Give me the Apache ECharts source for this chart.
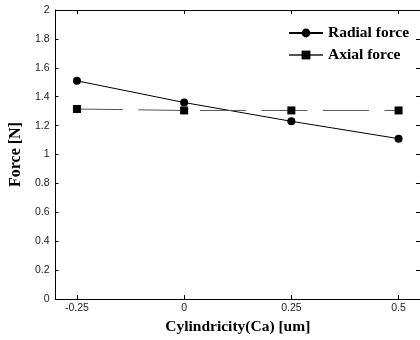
<!DOCTYPE html>
<html>
<head>
<meta charset="utf-8">
<script src="https://cdn.jsdelivr.net/npm/echarts@6/dist/echarts.min.js"></script>
<style>
html,body{margin:0;padding:0;background:#fff;}
#c{width:420px;height:340px;}
</style>
</head>
<body>
<div id="c"></div>
<script>
var xValues = [-0.25, 0, 0.25, 0.5];
var radialForce = [1.51, 1.36, 1.23, 1.11];
var axialForce = [1.315, 1.305, 1.305, 1.305];
var xTickLabels = ['-0.25', '0', '0.25', '0.5'];
var seriesNames = ['Radial force', 'Axial force'];

function pairs(ys){ return xValues.map(function(x,i){ return [x, ys[i]]; }); }

var serif = 'Liberation Serif';
var sans = 'Liberation Sans';
var chart = echarts.init(document.getElementById('c'), null, {renderer:'canvas'});
function axisLine(){ return {show:true, onZero:false, lineStyle:{color:'#000', width:1}}; }
chart.setOption({
  animation:false,
  backgroundColor:'#fff',
  grid:{left:51, top:10, width:370, height:290, containLabel:false},
  legend:{
    orient:'vertical', left:283, top:20, itemWidth:34, itemHeight:11, itemGap:6,
    textStyle:{fontFamily:serif, fontWeight:'bold', fontSize:15.5, color:'#000', lineHeight:16},
    data:seriesNames
  },
  xAxis:[{
    type:'value', min:-0.3, max:0.55, position:'bottom',
    name:'Cylindricity(Ca) [um]', nameLocation:'middle', nameGap:18,
    nameTextStyle:{fontFamily:serif, fontWeight:'bold', fontSize:15.5, color:'#000'},
    axisLine:axisLine(),
    axisTick:{show:true, inside:true, length:4, customValues:xValues, lineStyle:{color:'#000'}},
    axisLabel:{show:true, customValues:xValues, fontFamily:sans, fontSize:10.5, color:'#222', margin:4,
      formatter:function(v){ var i = xValues.indexOf(v); return i>=0 ? xTickLabels[i] : ''; }},
    splitLine:{show:false}
  },{
    type:'value', min:-0.3, max:0.55, position:'top',
    axisLine:axisLine(),
    axisTick:{show:true, inside:true, length:4, customValues:xValues, lineStyle:{color:'#000'}},
    axisLabel:{show:false}, splitLine:{show:false}
  }],
  yAxis:[{
    type:'value', min:0, max:2, interval:0.2, position:'left',
    name:'Force [N]', nameLocation:'middle', nameGap:22, nameRotate:90,
    nameTextStyle:{fontFamily:serif, fontWeight:'bold', fontSize:16, color:'#000'},
    axisLine:axisLine(),
    axisTick:{show:true, inside:true, length:3, lineStyle:{color:'#000'}},
    axisLabel:{fontFamily:sans, fontSize:10.5, color:'#222', margin:6,
      formatter:function(v){ return String(+v.toFixed(1)); }},
    splitLine:{show:false}
  },{
    type:'value', min:0, max:2, interval:0.2, position:'right',
    axisLine:axisLine(),
    axisTick:{show:true, inside:true, length:4, lineStyle:{color:'#000'}},
    axisLabel:{show:false}, splitLine:{show:false}
  }],
  series:[{
    name:seriesNames[0], type:'line', data:pairs(radialForce),
    symbol:'circle', symbolSize:8,
    lineStyle:{color:'#000', width:1}, itemStyle:{color:'#000'}
  },{
    name:seriesNames[1], type:'line', data:pairs(axialForce),
    symbol:'rect', symbolSize:8,
    lineStyle:{color:'#555', width:1, type:[46,15.5]}, itemStyle:{color:'#000'}
  }]
});
</script>
</body>
</html>
